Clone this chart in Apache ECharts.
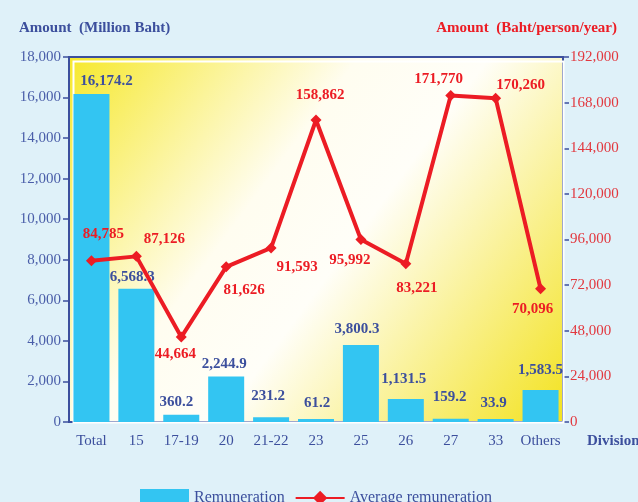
<!DOCTYPE html>
<html>
<head>
<meta charset="utf-8">
<script src="https://cdn.jsdelivr.net/npm/echarts@6/dist/echarts.min.js"></script>
<style>
  html, body { margin: 0; padding: 0; background: #dff1f9; }
  #chart { width: 638px; height: 502px; }
</style>
</head>
<body>
<div id="chart"></div>
<script>
// data
const divisions = ['Total', '15', '17-19', '20', '21-22', '23', '25', '26', '27', '33', 'Others'];
const remuneration = [16174.2, 6568.3, 360.2, 2244.9, 231.2, 61.2, 3800.3, 1131.5, 159.2, 33.9, 1583.5];
const avgRemuneration = [84785, 87126, 44664, 81626, 91593, 158862, 95992, 83221, 171770, 170260, 70096];

const BLUE = '#3c4f9d';
const RED = '#ec1c24';
const SERIF = '"Liberation Serif", "DejaVu Serif", serif';

// label nudges so the numbers sit where they do in the original
const barLabelOffset = [[15, 0], [-4, 1], [-5, 0], [-2, 0], [-3, -9], [1, -3], [-4, -3], [-2, -7], [-1, -9], [-2, -3], [0, -7]];
const lineLabelOffset = [[12, -27], [28, -17], [-6, 17], [18, 23], [26, 19], [4, -25], [-11, 21], [11, 24], [-12, -16], [25, -13], [-8, 20]];

const fmt = v => Number(v).toLocaleString('en-US');
const fmt1 = v => Number(v).toLocaleString('en-US', { minimumFractionDigits: 1, maximumFractionDigits: 1 });

const chart = echarts.init(document.getElementById('chart'));

const option = {
  backgroundColor: '#dff1f9',
  animation: false,
  title: [
    {
      text: 'Amount  (Million Baht)',
      left: 14, top: 16,
      textStyle: { fontFamily: SERIF, fontSize: 15, fontWeight: 'bold', color: BLUE }
    },
    {
      text: 'Amount  (Baht/person/year)',
      right: 16, top: 16,
      textStyle: { fontFamily: SERIF, fontSize: 15, fontWeight: 'bold', color: RED }
    },
    {
      text: 'Division',
      left: 582, top: 429,
      textStyle: { fontFamily: SERIF, fontSize: 15, fontWeight: 'bold', color: BLUE }
    }
  ],
  legend: {
    data: [
      { name: 'Remuneration', icon: 'rect' },
      { name: 'Average remuneration' }
    ],
    left: 135, top: 484,
    itemWidth: 49, itemHeight: 18, itemGap: 10,
    textStyle: { fontFamily: SERIF, fontSize: 16, color: BLUE }
  },
  grid: {
    left: 69, right: 75, top: 57, bottom: 80,
    show: true,
    borderColor: BLUE,
    borderWidth: 2,
    backgroundColor: new echarts.graphic.LinearGradient(0, 0, 1, 1, [
      { offset: 0, color: '#f6e82a' },
      { offset: 0.38, color: '#fffdf0' },
      { offset: 0.55, color: '#fffef8' },
      { offset: 1, color: '#f3e21e' }
    ])
  },
  graphic: [{
    type: 'rect',
    left: 71, top: 59, z: 1,
    shape: { width: 490, height: 361 },
    style: { fill: 'none', stroke: '#ffffff', lineWidth: 2 }
  }],
  xAxis: {
    type: 'category',
    data: divisions,
    axisLine: { lineStyle: { color: BLUE, width: 2 } },
    axisTick: { length: 8, lineStyle: { color: BLUE, width: 1.5 } },
    axisLabel: { interval: 0, fontFamily: SERIF, fontSize: 15, color: BLUE, margin: 12 }
  },
  yAxis: [
    {
      type: 'value',
      min: 0, max: 18000, interval: 2000,
      axisLine: { show: true, lineStyle: { color: BLUE, width: 2 } },
      axisTick: { show: true, length: 6, lineStyle: { color: BLUE, width: 1.5 } },
      axisLabel: { fontFamily: SERIF, fontSize: 15, color: '#4a5ea9', margin: 8, formatter: fmt },
      splitLine: { show: false }
    },
    {
      type: 'value',
      min: 0, max: 192000, interval: 24000,
      axisLine: { show: true, lineStyle: { color: BLUE, width: 2 } },
      axisTick: { show: true, length: 6, lineStyle: { color: BLUE, width: 1.5 } },
      axisLabel: { fontFamily: SERIF, fontSize: 15, color: '#e2383f', margin: 7, formatter: fmt },
      splitLine: { show: false }
    }
  ],
  series: [
    {
      name: 'Remuneration',
      type: 'bar',
      barWidth: 36,
      barMinHeight: 3,
      itemStyle: { color: '#33c5f2' },
      label: {
        show: true,
        position: 'top',
        fontFamily: SERIF, fontSize: 15, fontWeight: 'bold', color: BLUE,
        formatter: p => fmt1(p.value)
      },
      data: remuneration.map((v, i) => ({ value: v, label: { offset: barLabelOffset[i] } }))
    },
    {
      name: 'Average remuneration',
      type: 'line',
      yAxisIndex: 1,
      z: 5,
      symbol: 'diamond',
      symbolSize: 11,
      lineStyle: { color: RED, width: 4 },
      itemStyle: { color: RED },
      label: {
        show: true,
        position: 'inside',
        fontFamily: SERIF, fontSize: 15, fontWeight: 'bold', color: RED,
        formatter: p => fmt(p.value)
      },
      data: avgRemuneration.map((v, i) => ({ value: v, label: { offset: lineLabelOffset[i] } }))
    }
  ]
};

chart.setOption(option);
</script>
</body>
</html>
